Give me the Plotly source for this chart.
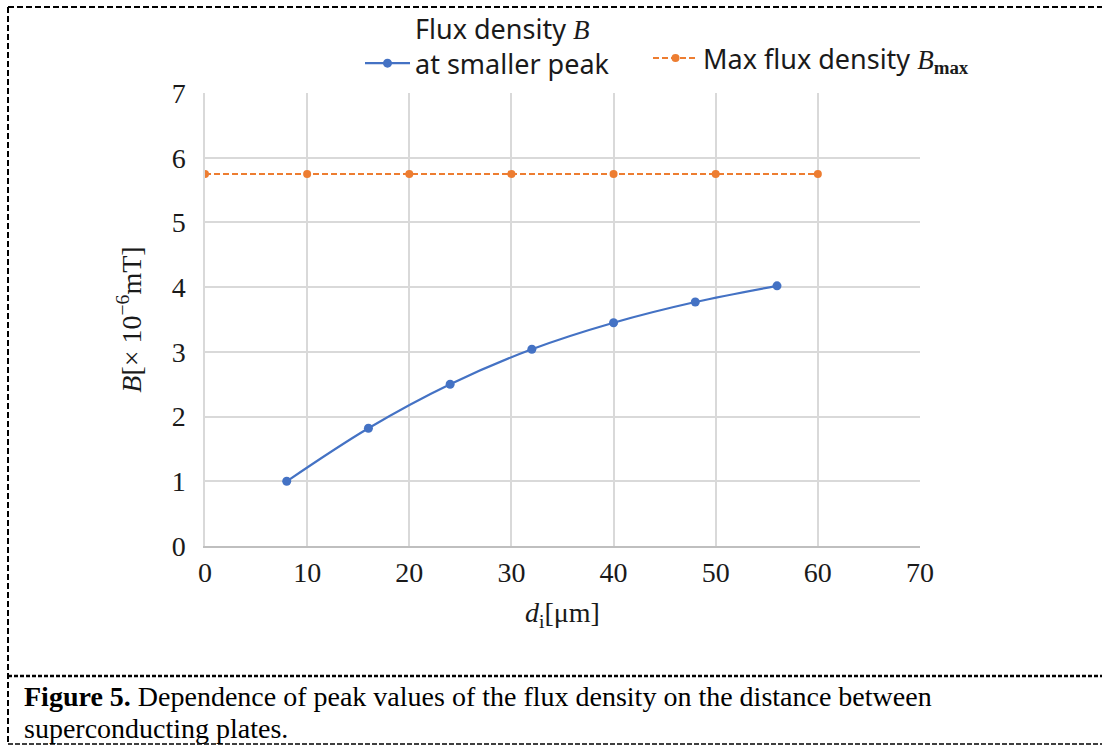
import plotly.graph_objects as go

# Data
d_small = [8, 16, 24, 32, 40, 48, 56]
b_small = [1.00, 1.82, 2.50, 3.04, 3.45, 3.77, 4.02]
d_max = [0, 10, 20, 30, 40, 50, 60]
b_max = [5.75, 5.75, 5.75, 5.75, 5.75, 5.75, 5.75]
x_ticks = [0, 10, 20, 30, 40, 50, 60, 70]
y_ticks = [0, 1, 2, 3, 4, 5, 6, 7]
caption_line1 = "<b>Figure 5.</b> Dependence of peak values of the flux density on the distance between"
caption_line2 = "superconducting plates."

W, H = 1102, 746
L, R, T, B = 205, 920, 93, 546

def px_x(p):
    return (p - L) / (R - L)

def px_y(p):
    return (B - p) / (B - T)

SERIF = "Liberation Serif"
SANS = "Noto Sans"
TXT = "#1a1a1a"

fig = go.Figure()
fig.add_trace(go.Scatter(
    x=d_small, y=b_small, mode="lines+markers",
    name="Flux density <span style='font-family:Liberation Serif'><i>B</i></span><br>at smaller peak",
    line=dict(color="#4472C4", width=2.2, shape="spline"),
    marker=dict(color="#4472C4", size=9),
    legend="legend", showlegend=True,
))
fig.add_trace(go.Scatter(
    x=d_max, y=b_max, mode="lines+markers",
    name="Max flux density <span style='font-family:Liberation Serif'><i>B</i><sub><b>max</b></sub></span>",
    line=dict(color="#ED7D31", width=2, dash="6px,3px"),
    marker=dict(color="#ED7D31", size=8),
    legend="legend2", showlegend=True,
))

shapes = []
shapes.append(dict(type="line", xref="paper", yref="paper",
                   x0=px_x(8), x1=px_x(1102), y0=px_y(7), y1=px_y(7),
                   line=dict(color="black", width=2, dash="6px,3px")))
shapes.append(dict(type="line", xref="paper", yref="paper",
                   x0=px_x(8), x1=px_x(8), y0=px_y(7), y1=px_y(745),
                   line=dict(color="black", width=2, dash="6px,3px")))
shapes.append(dict(type="line", xref="paper", yref="paper",
                   x0=px_x(8), x1=px_x(1102), y0=px_y(676), y1=px_y(676),
                   line=dict(color="black", width=2.5, dash="4px,2px")))
shapes.append(dict(type="line", xref="paper", yref="paper",
                   x0=px_x(8), x1=px_x(1102), y0=px_y(744), y1=px_y(744),
                   line=dict(color="black", width=1.5, dash="5px,2px")))

fig.update_layout(
    width=W, height=H,
    margin=dict(l=L, r=W - R, t=T, b=H - B, autoexpand=False),
    paper_bgcolor="white", plot_bgcolor="white",
    font=dict(family=SERIF, size=27, color=TXT),
    shapes=shapes,
    showlegend=True,
    legend=dict(x=px_x(360), y=px_y(4), xanchor="left", yanchor="top",
                orientation="h", valign="bottom",
                font=dict(family=SANS, size=27, color=TXT),
                bgcolor="rgba(0,0,0,0)", itemwidth=45),
    legend2=dict(x=px_x(648), y=px_y(34), xanchor="left", yanchor="top",
                 orientation="h",
                 font=dict(family=SANS, size=27, color=TXT),
                 bgcolor="rgba(0,0,0,0)", itemwidth=45),
    xaxis=dict(range=[0, 70], tickvals=x_ticks, ticktext=[str(v) for v in x_ticks],
               showgrid=True, gridcolor="#d9d9d9", gridwidth=1.5,
               showline=True, linecolor="#bfbfbf", linewidth=2,
               zeroline=False, ticks="", ticklabelstandoff=0,
               tickfont=dict(family=SERIF, size=28, color=TXT),
               title=dict(text="<i>d</i><sub>i</sub>[μm]", standoff=16,
                          font=dict(family=SERIF, size=28, color=TXT))),
    yaxis=dict(range=[0, 7], tickvals=y_ticks, ticktext=[str(v) for v in y_ticks],
               showgrid=True, gridcolor="#d9d9d9", gridwidth=1.5,
               showline=True, linecolor="#d9d9d9", linewidth=1.5,
               zeroline=False, ticks="", ticklabelstandoff=12,
               tickfont=dict(family=SERIF, size=28, color=TXT),
               title=dict(text="<i>B</i>[× 10<sup>−6</sup>mT]", standoff=22,
                          font=dict(family=SERIF, size=28, color=TXT))),
    annotations=[
        dict(xref="paper", yref="paper", x=px_x(22), y=px_y(696),
             xanchor="left", yanchor="middle", align="left", showarrow=False,
             text=caption_line1, font=dict(family=SERIF, size=28, color="black")),
        dict(xref="paper", yref="paper", x=px_x(22), y=px_y(728),
             xanchor="left", yanchor="middle", align="left", showarrow=False,
             text=caption_line2, font=dict(family=SERIF, size=28, color="black")),
    ],
)

fig.write_html("out.html", config={"displayModeBar": False},
               post_script="document.body.style.margin='0';")
